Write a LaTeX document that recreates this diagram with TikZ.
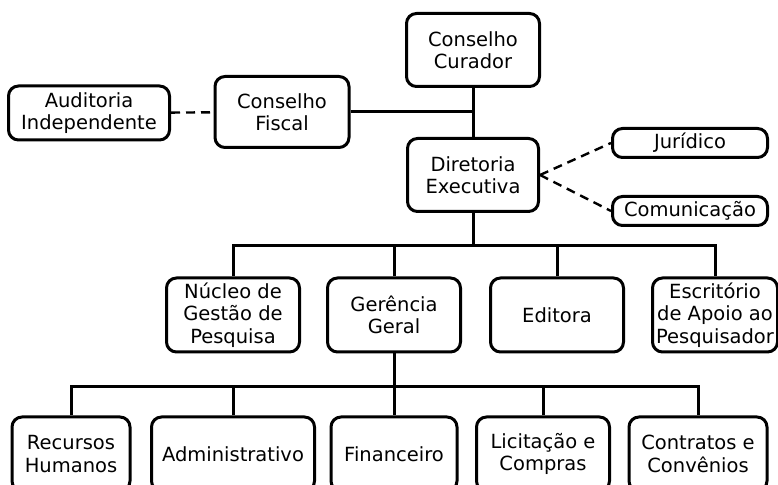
\documentclass[tikz,border=0pt]{standalone}
\usepackage{fontspec}
\setmainfont{DejaVu Sans}
\usepackage{tikz}
\usetikzlibrary{positioning,calc}
\tikzset{
  unit/.style={
    rectangle, rounded corners=10pt,
    fill=white, draw=black, line width=3pt,
    minimum width=133pt, minimum height=73pt,
    inner sep=2pt, align=center,
    font=\fontsize{19.5}{22.5}\selectfont
  },
  unitS/.style={
    unit, minimum height=29pt
  },
  tie/.style={line width=3pt, draw=black},
  aux/.style={line width=2.4pt, draw=black, dash pattern=on 9pt off 6pt}
}
\begin{document}
\begin{tikzpicture}[x=1pt, y=1pt]
  \useasboundingbox (0,0) rectangle (778,484);

  %% ---- top: councils ---------------------------------------------
  \node[unit] (cur) at (473,434) {Conselho\\Curador};
  \node[unit, minimum width=134pt, minimum height=71pt] (fis) at (282,372)
    {Conselho\\Fiscal};
  \node[unit, minimum width=161pt, minimum height=54pt] (aud) at (89,371)
    {Auditoria\\Independente};
  \node[unit, minimum width=131pt] (dir) at (473,309)
    {Diretoria\\Executiva};
  \node[unitS, minimum width=155pt] (jur) at (690,341) {Jurídico};
  \node[unitS, minimum width=155pt] (com) at (690,273) {Comunicação};

  \draw[tie] (cur) -- (dir);
  \draw[tie] (fis) -- (fis -| cur);
  \draw[aux] (aud) -- (fis);
  \draw[aux] (dir.east) -- (jur.west);
  \draw[aux] (dir.east) -- (com.west);

  %% ---- middle row ------------------------------------------------
  \coordinate (b1) at (473,238);
  \node[unit, minimum height=74pt] (nuc) at (233,169)
    {Núcleo de\\Gestão de\\Pesquisa};
  \node[unit, minimum height=74pt] (ger) at (394,169) {Gerência\\Geral};
  \node[unit, minimum height=74pt] (edi) at (557,169) {Editora};
  \node[unit, minimum width=125pt, minimum height=74pt] (esc) at (715,169)
    {Escritório\\de Apoio ao\\Pesquisador};

  \draw[tie] (dir) -- (dir |- b1);
  \draw[tie] (nuc.north) |- (b1) -| (esc.north);
  \draw[tie] (ger.north) -- (ger |- b1);
  \draw[tie] (edi.north) -- (edi |- b1);

  %% ---- bottom row ------------------------------------------------
  \coordinate (b2) at (394,97);
  \node[unit, minimum width=118pt, minimum height=74pt] (rh) at (71,30)
    {Recursos\\Humanos};
  \node[unit, minimum width=163pt, minimum height=74pt] (adm) at (233,30)
    {Administrativo};
  \node[unit, minimum width=126pt, minimum height=74pt] (fin) at (394,30)
    {Financeiro};
  \node[unit, minimum height=74pt] (lic) at (543,30) {Licitação e\\Compras};
  \node[unit, minimum width=138pt, minimum height=74pt] (con) at (698,30)
    {Contratos e\\Convênios};

  \draw[tie] (ger.south) -- (fin.north);
  \draw[tie] (rh.north) |- (b2) -| (con.north);
  \draw[tie] (adm.north) -- (adm |- b2);
  \draw[tie] (lic.north) -- (lic |- b2);
\end{tikzpicture}
\end{document}
